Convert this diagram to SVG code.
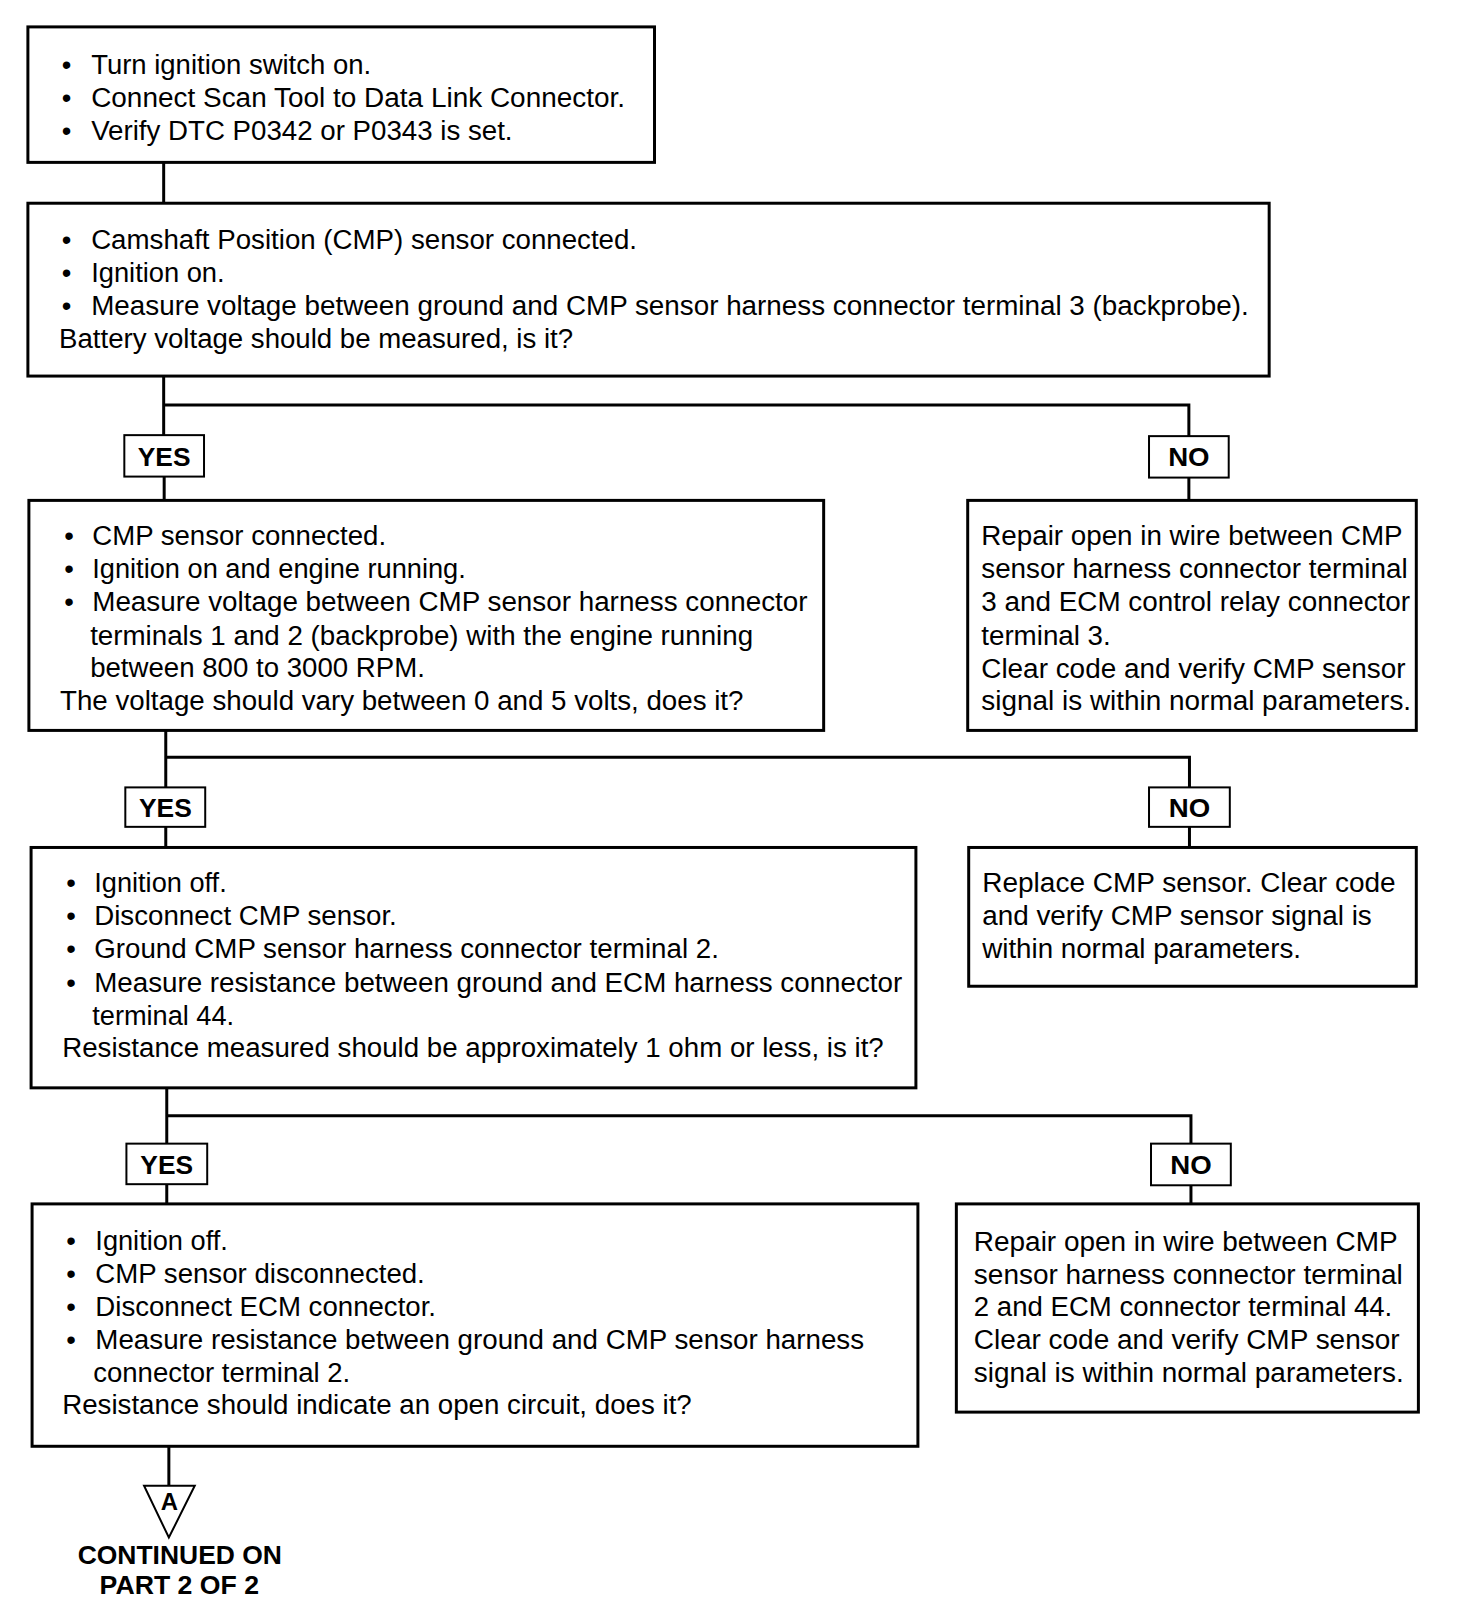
<svg xmlns="http://www.w3.org/2000/svg" width="1472" height="1624" viewBox="0 0 1472 1624">
<style>
.box{fill:#fff;stroke:#000;stroke-width:3}
.lbl{fill:#fff;stroke:#000;stroke-width:2}
.ln{fill:none;stroke:#000;stroke-width:3}
text{font-family:"Liberation Sans",Arial,sans-serif;font-size:27.5px;fill:#000}
.b{font-weight:bold;font-size:26px}
</style>
<rect width="1472" height="1624" fill="#fff"/>
<g transform="scale(0.9962)">
<g id="connectors">
<path class="ln" d="M164.3 163V204"/>
<path class="ln" d="M164.3 377.5V436.8M164.3 406.6H1193.4V437.8M164.8 478.4V502.3M1193.4 479.4V502.3"/>
<path class="ln" d="M166.4 733.2V790.4M166.4 760.2H1194V790.4M166.4 830V850.7M1194 830V850.7"/>
<path class="ln" d="M167.4 1092V1148M167.4 1120H1195.5V1148M167.4 1188.7V1208.5M1195.5 1189.8V1208.5"/>
<path class="ln" d="M169.5 1451.8V1491.4"/>
</g>
<g id="n1">
<rect class="box" x="28" y="27" width="629" height="136"/>
<text x="62" y="74">•</text><text x="91.5" y="74" textLength="281" lengthAdjust="spacingAndGlyphs">Turn ignition switch on.</text>
<text x="62" y="107">•</text><text x="91.5" y="107" textLength="536" lengthAdjust="spacingAndGlyphs">Connect Scan Tool to Data Link Connector.</text>
<text x="62" y="140.5">•</text><text x="91.5" y="140.5" textLength="423" lengthAdjust="spacingAndGlyphs">Verify DTC P0342 or P0343 is set.</text>
</g>
<g id="n2">
<rect class="box" x="28" y="204" width="1246" height="173.5"/>
<text x="62" y="249.7">•</text><text x="91.5" y="249.7" textLength="548" lengthAdjust="spacingAndGlyphs">Camshaft Position (CMP) sensor connected.</text>
<text x="62" y="283">•</text><text x="91.5" y="283" textLength="134" lengthAdjust="spacingAndGlyphs">Ignition on.</text>
<text x="62" y="316.3">•</text><text x="91.5" y="316.3" textLength="1162" lengthAdjust="spacingAndGlyphs">Measure voltage between ground and CMP sensor harness connector terminal 3 (backprobe).</text>
<text x="59.3" y="349.6" textLength="516" lengthAdjust="spacingAndGlyphs">Battery voltage should be measured, is it?</text>
</g>
<g id="yes1"><rect class="lbl" x="124.8" y="436.8" width="80" height="41.6"/><text class="b" x="164.8" y="467.5" text-anchor="middle" textLength="53" lengthAdjust="spacingAndGlyphs">YES</text></g>
<g id="no1"><rect class="lbl" x="1153.4" y="437.8" width="80" height="41.6"/><text class="b" x="1193.4" y="468" text-anchor="middle" textLength="41.6" lengthAdjust="spacingAndGlyphs">NO</text></g>
<g id="n3">
<rect class="box" x="29" y="502.3" width="797.8" height="230.9"/>
<text x="64.5" y="547.2">•</text><text x="92.6" y="547.2" textLength="295" lengthAdjust="spacingAndGlyphs">CMP sensor connected.</text>
<text x="64.5" y="580.5">•</text><text x="92.6" y="580.5" textLength="375" lengthAdjust="spacingAndGlyphs">Ignition on and engine running.</text>
<text x="64.5" y="613.7">•</text><text x="92.6" y="613.7" textLength="718" lengthAdjust="spacingAndGlyphs">Measure voltage between CMP sensor harness connector</text>
<text x="90.5" y="647" textLength="665.5" lengthAdjust="spacingAndGlyphs">terminals 1 and 2 (backprobe) with the engine running</text>
<text x="90.5" y="679.3" textLength="336" lengthAdjust="spacingAndGlyphs">between 800 to 3000 RPM.</text>
<text x="60.3" y="712.5" textLength="686" lengthAdjust="spacingAndGlyphs">The voltage should vary between 0 and 5 volts, does it?</text>
</g>
<g id="n4">
<rect class="box" x="971.4" y="502.3" width="450.3" height="230.9"/>
<text x="985" y="547.2" textLength="423" lengthAdjust="spacingAndGlyphs">Repair open in wire between CMP</text>
<text x="985" y="580.5" textLength="428" lengthAdjust="spacingAndGlyphs">sensor harness connector terminal</text>
<text x="985" y="613.7" textLength="430.5" lengthAdjust="spacingAndGlyphs">3 and ECM control relay connector</text>
<text x="985" y="647" textLength="130" lengthAdjust="spacingAndGlyphs">terminal 3.</text>
<text x="985" y="680.3" textLength="426" lengthAdjust="spacingAndGlyphs">Clear code and verify CMP sensor</text>
<text x="985" y="712.5" textLength="431.5" lengthAdjust="spacingAndGlyphs">signal is within normal parameters.</text>
</g>
<g id="yes2"><rect class="lbl" x="125.8" y="790.4" width="80.2" height="39.6"/><text class="b" x="166" y="820" text-anchor="middle" textLength="53" lengthAdjust="spacingAndGlyphs">YES</text></g>
<g id="no2"><rect class="lbl" x="1153.4" y="790.4" width="81.1" height="39.6"/><text class="b" x="1194" y="820" text-anchor="middle" textLength="41.6" lengthAdjust="spacingAndGlyphs">NO</text></g>
<g id="n5">
<rect class="box" x="31.2" y="850.7" width="888.2" height="241.3"/>
<text x="66.6" y="895.6">•</text><text x="94.6" y="895.6" textLength="133" lengthAdjust="spacingAndGlyphs">Ignition off.</text>
<text x="66.6" y="928.9">•</text><text x="94.6" y="928.9" textLength="303.7" lengthAdjust="spacingAndGlyphs">Disconnect CMP sensor.</text>
<text x="66.6" y="962.1">•</text><text x="94.6" y="962.1" textLength="627" lengthAdjust="spacingAndGlyphs">Ground CMP sensor harness connector terminal 2.</text>
<text x="66.6" y="995.4">•</text><text x="94.6" y="995.4" textLength="811" lengthAdjust="spacingAndGlyphs">Measure resistance between ground and ECM harness connector</text>
<text x="92.6" y="1028.7" textLength="142.4" lengthAdjust="spacingAndGlyphs">terminal 44.</text>
<text x="62.4" y="1061" textLength="824.7" lengthAdjust="spacingAndGlyphs">Resistance measured should be approximately 1 ohm or less, is it?</text>
</g>
<g id="n6">
<rect class="box" x="972.4" y="850.7" width="449.3" height="139.3"/>
<text x="986" y="895.6" textLength="415" lengthAdjust="spacingAndGlyphs">Replace CMP sensor. Clear code</text>
<text x="986" y="928.9" textLength="391" lengthAdjust="spacingAndGlyphs">and verify CMP sensor signal is</text>
<text x="986" y="962.1" textLength="320" lengthAdjust="spacingAndGlyphs">within normal parameters.</text>
</g>
<g id="yes3"><rect class="lbl" x="126.9" y="1148" width="81.1" height="40.7"/><text class="b" x="167.4" y="1178.5" text-anchor="middle" textLength="53" lengthAdjust="spacingAndGlyphs">YES</text></g>
<g id="no3"><rect class="lbl" x="1155.4" y="1148" width="80.1" height="41.8"/><text class="b" x="1195.5" y="1178.5" text-anchor="middle" textLength="41.6" lengthAdjust="spacingAndGlyphs">NO</text></g>
<g id="n7">
<rect class="box" x="32.2" y="1208.5" width="889.2" height="243.3"/>
<text x="66.6" y="1254.4">•</text><text x="95.7" y="1254.4" textLength="133" lengthAdjust="spacingAndGlyphs">Ignition off.</text>
<text x="66.6" y="1287.7">•</text><text x="95.7" y="1287.7" textLength="330.7" lengthAdjust="spacingAndGlyphs">CMP sensor disconnected.</text>
<text x="66.6" y="1321">•</text><text x="95.7" y="1321" textLength="342" lengthAdjust="spacingAndGlyphs">Disconnect ECM connector.</text>
<text x="66.6" y="1354.2">•</text><text x="95.7" y="1354.2" textLength="771.7" lengthAdjust="spacingAndGlyphs">Measure resistance between ground and CMP sensor harness</text>
<text x="93.6" y="1387.5" textLength="258" lengthAdjust="spacingAndGlyphs">connector terminal 2.</text>
<text x="62.4" y="1419.7" textLength="632" lengthAdjust="spacingAndGlyphs">Resistance should indicate an open circuit, does it?</text>
</g>
<g id="n8">
<rect class="box" x="960" y="1208.5" width="463.8" height="209"/>
<text x="977.6" y="1255.4" textLength="425.4" lengthAdjust="spacingAndGlyphs">Repair open in wire between CMP</text>
<text x="977.6" y="1289" textLength="430.6" lengthAdjust="spacingAndGlyphs">sensor harness connector terminal</text>
<text x="977.6" y="1321" textLength="420" lengthAdjust="spacingAndGlyphs">2 and ECM connector terminal 44.</text>
<text x="977.6" y="1354.2" textLength="427.4" lengthAdjust="spacingAndGlyphs">Clear code and verify CMP sensor</text>
<text x="977.6" y="1387.5" textLength="431.6" lengthAdjust="spacingAndGlyphs">signal is within normal parameters.</text>
</g>
<g id="offpage">
<polygon points="144.6,1491.4 195.5,1491.4 169.5,1543.4" fill="#fff" stroke="#000" stroke-width="2"/>
<text class="b" x="170" y="1516" text-anchor="middle" style="font-size:24px">A</text>
<text class="b" x="180.5" y="1570" text-anchor="middle" textLength="205" lengthAdjust="spacingAndGlyphs">CONTINUED ON</text>
<text class="b" x="180" y="1600" text-anchor="middle" textLength="160" lengthAdjust="spacingAndGlyphs">PART 2 OF 2</text>
</g>
</g>
</svg>
